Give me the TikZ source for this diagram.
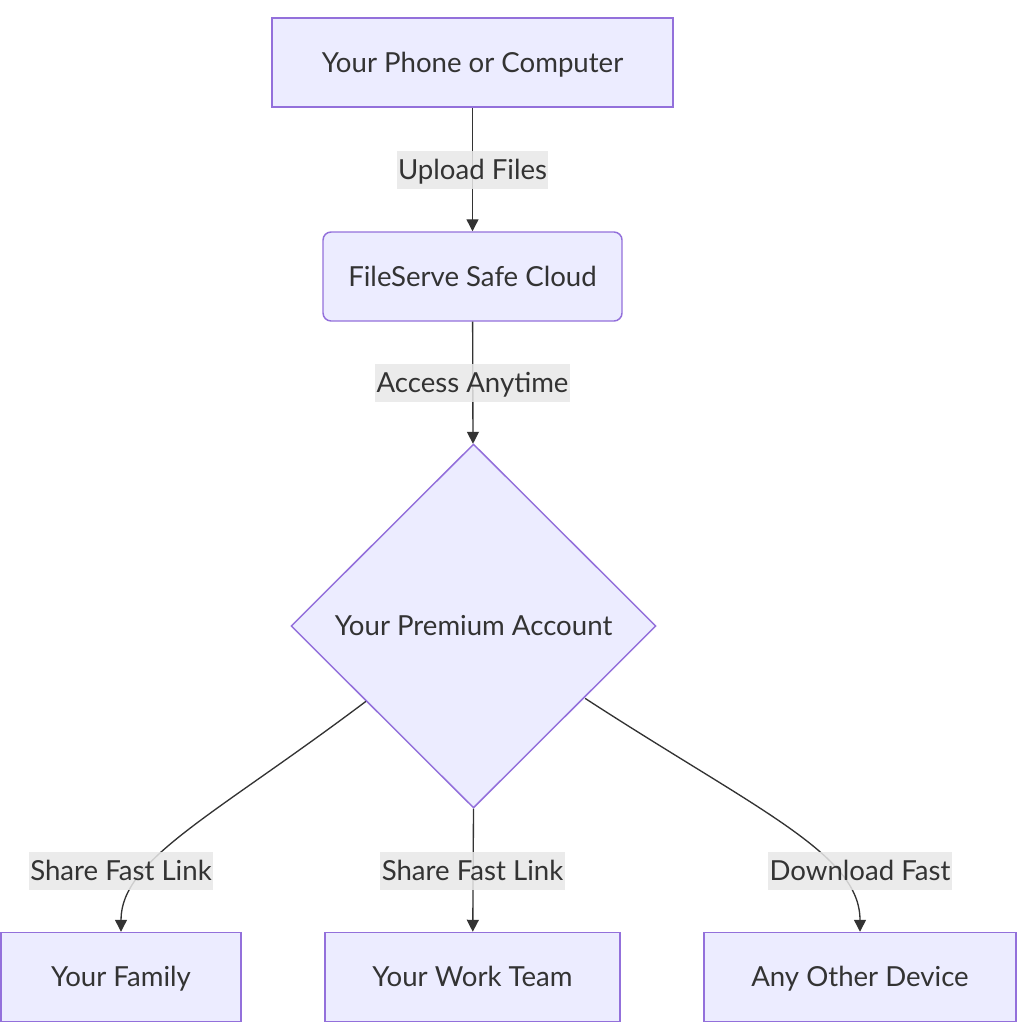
\documentclass[tikz,border=0pt]{standalone}
\usepackage{fontspec}
\setmainfont{Lato}
\usepackage{xcolor}
\usetikzlibrary{shapes.geometric,arrows.meta}

\definecolor{boxfill}{HTML}{ECECFF}
\definecolor{boxline}{HTML}{9370DB}
\definecolor{edgeline}{HTML}{333333}
\definecolor{labelfill}{HTML}{E8E8E8}

\begin{document}
\begin{tikzpicture}[x=0.75pt,y=0.75pt,yscale=-1,xscale=1,
  every node/.style={font=\fontsize{20.7}{24}\selectfont, text=edgeline, text height=14.9pt, text depth=0pt},
  stepbox/.style={draw=boxline, fill=boxfill, line width=1.1pt, minimum height=66.75pt, inner sep=0pt},
  roundbox/.style={stepbox, rounded corners=6pt},
  choice/.style={diamond, draw=boxline, fill=boxfill, line width=1.1pt, minimum width=273.75pt, minimum height=273pt, inner sep=0pt},
  flow/.style={draw=edgeline, line width=1pt, -{Triangle[length=9pt,width=9pt]}},
  tag/.style={fill=labelfill, fill opacity=0.85, text opacity=1, inner xsep=1pt, inner ysep=0pt, minimum height=29pt}]

\useasboundingbox (0,0) rectangle (1021,1024);

% boxes
\node [stepbox, minimum width=300.75pt] (phone) at (472.5,62.5) {Your Phone or Computer};
\node [roundbox, minimum width=224.25pt] (cloud) at (472.5,276.5) {FileServe Safe Cloud};
\node [choice] (premium) at (473.5,626) {Your Premium Account};
\node [stepbox, minimum width=180pt] (family) at (121,977) {Your Family};
\node [stepbox, minimum width=221.25pt] (team) at (472.5,977) {Your Work Team};
\node [stepbox, minimum width=234pt] (device) at (860,977) {Any Other Device};

% links
\draw [flow] (phone) -- (cloud);
\draw [flow] (cloud) -- (premium);
\draw [flow] (premium.south) -- (team);
\draw [flow] (premium.south west) ++(-16,-16) coordinate (lout) to [out=143, in=270, out looseness=1.45, in looseness=0.55] (family.north);
\draw [flow] (premium.south east) ++(20,-19) coordinate (rout) to [out=33, in=270, out looseness=1.45, in looseness=0.55] (device.north);

% labels
\node [tag] (upload) at (472.5,170) {Upload Files};
\node [tag] (access) at (472.5,383) {Access Anytime};
\node [tag] (sharefam) at (121,871) {Share Fast Link};
\node [tag] (shareteam) at (472.5,871) {Share Fast Link};
\node [tag] (download) at (860,871) {Download Fast};

\end{tikzpicture}
\end{document}
